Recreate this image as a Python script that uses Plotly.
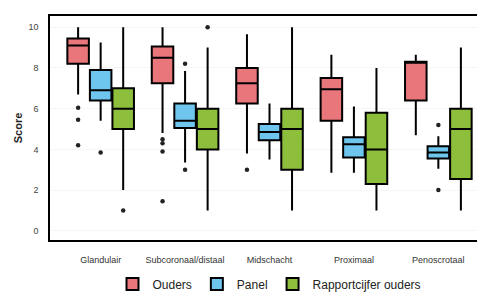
import plotly.graph_objects as go

categories = ["Glandulair", "Subcoronaal/distaal", "Midschacht", "Proximaal", "Penoscrotaal"]
groups = ["Ouders", "Panel", "Rapportcijfer ouders"]

# precomputed box statistics per group (per category)
ouders_low = [6.7, 4.8, 3.8, 2.85, 4.7]
ouders_q1 = [8.2, 7.25, 6.25, 5.4, 6.4]
ouders_med = [9.1, 8.5, 7.25, 6.95, 8.3]
ouders_q3 = [9.45, 9.05, 8.0, 7.5, 8.3]
ouders_high = [10.0, 10.0, 9.65, 8.65, 8.65]
ouders_out_cat = [0, 0, 0, 1, 1, 1, 1, 2]
ouders_out_val = [6.05, 5.45, 4.2, 4.5, 4.3, 3.9, 1.45, 3.0]

panel_low = [5.4, 3.35, 3.5, 2.85, 3.05]
panel_q1 = [6.4, 5.05, 4.45, 3.6, 3.55]
panel_med = [6.9, 5.4, 4.85, 4.25, 3.85]
panel_q3 = [7.9, 6.25, 5.25, 4.6, 4.15]
panel_high = [9.25, 7.85, 6.25, 6.1, 4.65]
panel_out_cat = [0, 1, 1, 4, 4]
panel_out_val = [3.85, 8.2, 3.0, 5.2, 2.0]

rapport_low = [2.0, 1.0, 1.0, 1.0, 1.0]
rapport_q1 = [5.0, 4.0, 3.0, 2.3, 2.55]
rapport_med = [6.0, 5.0, 5.0, 4.0, 5.0]
rapport_q3 = [7.0, 6.0, 6.0, 5.8, 6.0]
rapport_high = [10.0, 9.0, 10.0, 8.0, 9.0]
rapport_out_cat = [0, 1]
rapport_out_val = [1.0, 10.0]

colors = ["#E8767A", "#6EC6EE", "#8DBE3C"]
offsets = [-0.267, 0.0, 0.267]

stats = [
    (ouders_low, ouders_q1, ouders_med, ouders_q3, ouders_high, ouders_out_cat, ouders_out_val),
    (panel_low, panel_q1, panel_med, panel_q3, panel_high, panel_out_cat, panel_out_val),
    (rapport_low, rapport_q1, rapport_med, rapport_q3, rapport_high, rapport_out_cat, rapport_out_val),
]

fig = go.Figure()
for g, (name, col, off, st) in enumerate(zip(groups, colors, offsets, stats)):
    low, q1, med, q3, high, oc, ov = st
    xs = [i + off for i in range(len(categories))]
    fig.add_trace(go.Box(
        name=name, x=xs, q1=q1, median=med, q3=q3,
        lowerfence=low, upperfence=high,
        width=0.255, whiskerwidth=0, boxpoints=False,
        fillcolor=col, line=dict(color="black", width=2),
        marker=dict(color=col),
    ))
    fig.add_trace(go.Scatter(
        x=[c + off for c in oc], y=ov, mode="markers",
        marker=dict(color="#222222", size=4.5),
        showlegend=False, hoverinfo="skip",
    ))

fig.update_layout(
    width=485, height=293,
    margin=dict(l=42, r=4, t=8, b=61, autoexpand=False),
    paper_bgcolor="white", plot_bgcolor="white",
    font=dict(family="Liberation Sans, Arial, sans-serif", color="#333333"),
    showlegend=True,
    legend=dict(orientation="h", x=0.5, xanchor="center",
                yref="container", y=0.058, yanchor="middle",
                font=dict(size=12, color="#222222"), itemwidth=30,
                tracegroupgap=0),
)
fig.update_xaxes(
    range=[-0.6, 4.6], tickmode="array",
    tickvals=list(range(len(categories))), ticktext=categories,
    tickfont=dict(size=9, color="#333333"),
    showgrid=False, zeroline=False,
    showline=True, mirror=True, linecolor="black", linewidth=1.5,
    ticks="", ticklabelstandoff=10,
)
fig.update_yaxes(
    range=[-0.45, 10.55], tickvals=[0, 2, 4, 6, 8, 10],
    tickfont=dict(size=9, color="#444444"),
    showgrid=True, gridcolor="#F6F6F6", zeroline=False,
    showline=True, mirror=True, linecolor="black", linewidth=1.5,
    ticks="", ticklabelstandoff=8,
    title=dict(text="<b>Score</b>", font=dict(size=11, color="#222222"), standoff=4),
)

fig.write_html("out.html")
